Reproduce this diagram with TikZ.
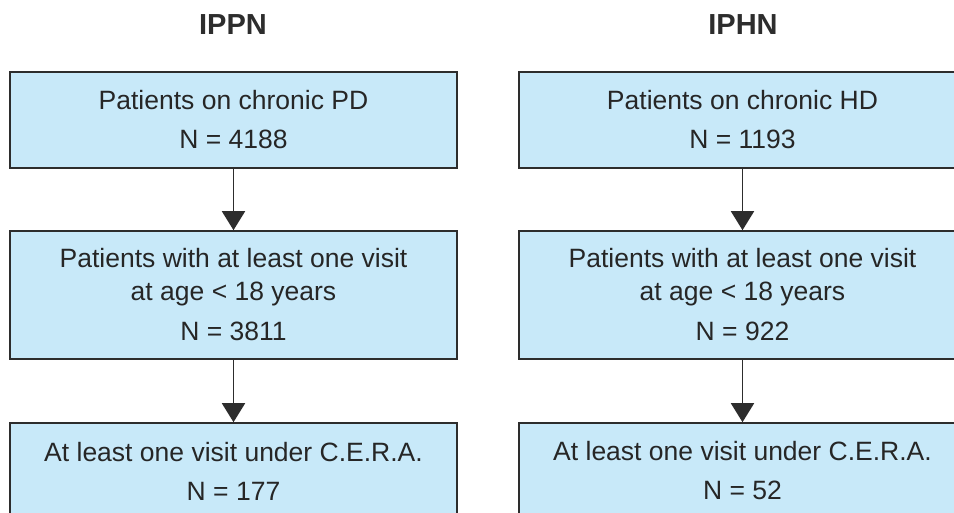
\documentclass[tikz,border=0pt]{standalone}
\usepackage{fontspec}
\setmainfont{Liberation Sans}
\usetikzlibrary{arrows.meta}

\definecolor{boxfill}{RGB}{200,233,249}
\definecolor{boxline}{RGB}{45,45,45}

\begin{document}
\begin{tikzpicture}[
  x=1pt, y=-1pt,
  title/.style={font=\fontsize{29}{34}\selectfont\bfseries, text=boxline},
  stage/.style={draw=boxline, line width=1.6pt, fill=boxfill, text=black!85,
    minimum width=447pt, inner sep=0pt, align=center,
    font=\fontsize{26.5}{33}\selectfont},
  flow/.style={-{Triangle[width=23pt,length=19pt]}, line width=1.9pt, draw=boxline}
]
  \useasboundingbox (0,0) rectangle (954,513);
  \clip (0,0) rectangle (954,513);

  \node[title] (ippn) at (233,25) {IPPN};
  \node[title] (iphn) at (743,25) {IPHN};

  % IPPN column
  \node[stage, minimum height=96pt] (pd) at (233.5,120) {Patients on chronic PD\\[6pt]N = 4188};
  \node[stage, minimum height=128pt] (pdkid) at (233.5,295) {Patients with at least one visit\\at age < 18 years\\[7pt]N = 3811};
  \node[stage, minimum height=96pt] (pdcera) at (233.5,471) {At least one visit under C.E.R.A.\\[6pt]N = 177};

  % IPHN column
  \node[stage, minimum height=96pt] (hd) at (742.5,120) {Patients on chronic HD\\[6pt]N = 1193};
  \node[stage, minimum height=128pt] (hdkid) at (742.5,295) {Patients with at least one visit\\at age < 18 years\\[7pt]N = 922};
  \node[stage, minimum height=96pt] (hdcera) at (742.5,471) {At least one visit under C.E.R.A.\\[6pt]N = 52};

  \draw[flow] (pd) -- (pdkid);
  \draw[flow] (pdkid) -- (pdcera);
  \draw[flow] (hd) -- (hdkid);
  \draw[flow] (hdkid) -- (hdcera);
\end{tikzpicture}
\end{document}
